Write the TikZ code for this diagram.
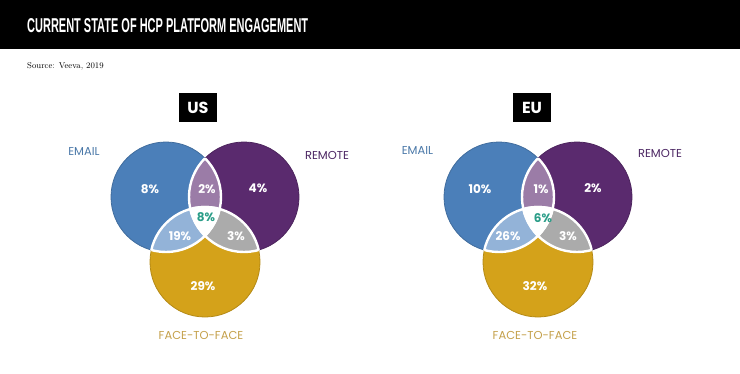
\documentclass[tikz,border=0pt]{standalone}
\usepackage{fontspec}
\usepackage{graphicx}
\newfontfamily\labelfont{Poppins}
\newfontfamily\headfont{Liberation Sans}
\definecolor{emailc}{HTML}{4B7FB9}
\definecolor{remotec}{HTML}{5A2A6E}
\definecolor{ftfc}{HTML}{D4A21A}
\definecolor{emrem}{HTML}{9B7CA7}
\definecolor{emftf}{HTML}{93B3D8}
\definecolor{remftf}{HTML}{ABABAB}
\definecolor{midtxt}{HTML}{2A9D88}
\definecolor{emailtxt}{HTML}{4A78A8}
\definecolor{remotetxt}{HTML}{4B2562}
\definecolor{ftftxt}{HTML}{C4A04A}
\begin{document}
\begin{tikzpicture}[x=1pt,y=-1pt,
  every node/.style={inner sep=0pt},
  pct/.style={font=\labelfont\bfseries\fontsize{12}{12}\selectfont,text=white,text height=9pt,text depth=0pt},
  setname/.style={font=\labelfont\fontsize{11.5}{12}\selectfont,text height=8pt,text depth=0pt},
  region/.style={fill=black,text=white,minimum width=38pt,minimum height=29pt,
    font=\labelfont\bfseries\fontsize{16}{16}\selectfont},
  seam/.style={draw=white,line width=2.4pt}]
\useasboundingbox (0,0) rectangle (740,373);
% title bar
\fill[black] (0,0) rectangle (740,49);
\node[anchor=base west,text=white] (title) at (27,32)
  {\resizebox{281pt}{14pt}{\headfont\bfseries CURRENT STATE OF HCP PLATFORM ENGAGEMENT}};
\node[anchor=base west,font=\fontsize{8.5}{9}\selectfont] (source) at (27,68) {Source: Veeva, 2019};
% US
\begin{scope}
\coordinate (em) at (166,197);
\coordinate (rm) at (244,197);
\coordinate (ff) at (205,262);
\filldraw[fill=emailc,draw=emailc!85!black,line width=0.8pt] (em) circle (55pt);
\filldraw[fill=remotec,draw=remotec!85!black,line width=0.8pt] (rm) circle (55pt);
\filldraw[fill=ftfc,draw=ftfc!85!black,line width=0.8pt] (ff) circle (55pt);
\begin{scope} \clip (em) circle (55pt); \fill[emrem] (rm) circle (55pt); \end{scope}
\begin{scope} \clip (em) circle (55pt); \fill[emftf] (ff) circle (55pt); \end{scope}
\begin{scope} \clip (rm) circle (55pt); \fill[remftf] (ff) circle (55pt); \end{scope}
\begin{scope} \clip (em) circle (55pt); \clip (rm) circle (55pt); \fill[white] (ff) circle (55pt); \end{scope}
% white seams
\begin{scope} \clip (em) circle (55pt); \draw[seam] (rm) circle (55pt); \draw[seam] (ff) circle (55pt); \end{scope}
\begin{scope} \clip (rm) circle (55pt); \draw[seam] (em) circle (55pt); \draw[seam] (ff) circle (55pt); \end{scope}
\begin{scope} \clip (ff) circle (55pt); \draw[seam] (em) circle (55pt); \draw[seam] (rm) circle (55pt); \end{scope}
\node[region] (us) at (198,107.5) {US};
\node[pct] (us-e) at (150,189) {8\%};
\node[pct] (us-er) at (207,189) {2\%};
\node[pct] (us-r) at (258,188) {4\%};
\node[pct,text=midtxt] (us-all) at (206,217) {8\%};
\node[pct] (us-ef) at (180,236) {19\%};
\node[pct] (us-rf) at (236,236) {3\%};
\node[pct] (us-f) at (203,286) {29\%};
\node[setname,text=emailtxt] (us-email) at (84,151) {EMAIL};
\node[setname,text=remotetxt] (us-remote) at (327,155) {REMOTE};
\node[setname,text=ftftxt] (us-ftf) at (201,335) {FACE-TO-FACE};
\end{scope}
% EU
\begin{scope}[xshift=333pt]
\coordinate (em) at (166,197);
\coordinate (rm) at (244,197);
\coordinate (ff) at (205,262);
\filldraw[fill=emailc,draw=emailc!85!black,line width=0.8pt] (em) circle (55pt);
\filldraw[fill=remotec,draw=remotec!85!black,line width=0.8pt] (rm) circle (55pt);
\filldraw[fill=ftfc,draw=ftfc!85!black,line width=0.8pt] (ff) circle (55pt);
\begin{scope} \clip (em) circle (55pt); \fill[emrem] (rm) circle (55pt); \end{scope}
\begin{scope} \clip (em) circle (55pt); \fill[emftf] (ff) circle (55pt); \end{scope}
\begin{scope} \clip (rm) circle (55pt); \fill[remftf] (ff) circle (55pt); \end{scope}
\begin{scope} \clip (em) circle (55pt); \clip (rm) circle (55pt); \fill[white] (ff) circle (55pt); \end{scope}
% white seams
\begin{scope} \clip (em) circle (55pt); \draw[seam] (rm) circle (55pt); \draw[seam] (ff) circle (55pt); \end{scope}
\begin{scope} \clip (rm) circle (55pt); \draw[seam] (em) circle (55pt); \draw[seam] (ff) circle (55pt); \end{scope}
\begin{scope} \clip (ff) circle (55pt); \draw[seam] (em) circle (55pt); \draw[seam] (rm) circle (55pt); \end{scope}
\node[region] (eu) at (199,107.5) {EU};
\node[pct] (eu-e) at (147,189) {10\%};
\node[pct] (eu-er) at (208,189) {1\%};
\node[pct] (eu-r) at (260,188) {2\%};
\node[pct,text=midtxt] (eu-all) at (210,218) {6\%};
\node[pct] (eu-ef) at (175,236) {26\%};
\node[pct] (eu-rf) at (235,236) {3\%};
\node[pct] (eu-f) at (202,286) {32\%};
\node[setname,text=emailtxt] (eu-email) at (84.5,150.5) {EMAIL};
\node[setname,text=remotetxt] (eu-remote) at (327,153) {REMOTE};
\node[setname,text=ftftxt] (eu-ftf) at (202,335) {FACE-TO-FACE};
\end{scope}
\end{tikzpicture}
\end{document}
